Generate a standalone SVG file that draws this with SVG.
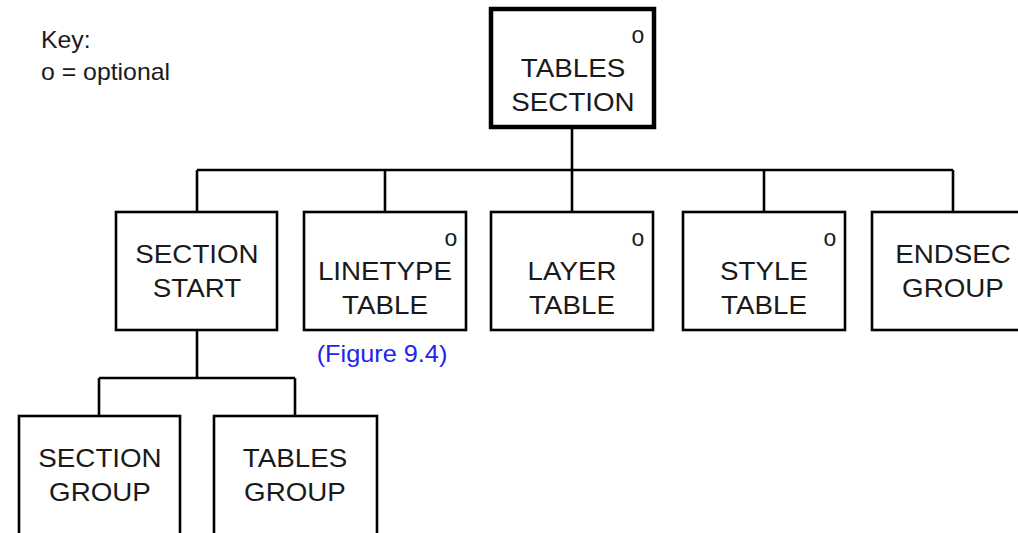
<svg xmlns="http://www.w3.org/2000/svg" width="1018" height="533" viewBox="0 0 1018 533">
<style>
.box{fill:#fff;stroke:#000;stroke-width:2.6}
.main{fill:#fff;stroke:#000;stroke-width:4.5}
.ln{fill:none;stroke:#000;stroke-width:2.6}
text{font-family:"Liberation Sans",Arial,sans-serif;fill:#1a1a1a}
.lbl{font-size:25px;text-anchor:middle;transform-box:fill-box;transform-origin:center;transform:scaleX(1.11)}
.opt{font-size:23px;text-anchor:middle}
.key{font-size:23px;transform-box:fill-box;transform-origin:left center;transform:scaleX(1.08)}
.ref{font-size:23px;text-anchor:middle;fill:#2323f0;transform-box:fill-box;transform-origin:center;transform:scaleX(1.1)}
</style>
<g id="connectors">
<path class="ln" d="M572 129V170M197 170H953M197 170V212M385 170V212M572 170V212M764 170V212M953 170V212"/>
<path class="ln" d="M197 330V378M99 378H295M99 378V416M295 378V416"/>
</g>
<g id="key">
<text class="key" x="41" y="48">Key:</text>
<text class="key" x="41" y="80">o = optional</text>
</g>
<g id="tables-section">
<rect class="main" x="491" y="9" width="163" height="118"/>
<text class="opt" x="638" y="43">o</text>
<text class="lbl" x="573" y="77">TABLES</text>
<text class="lbl" x="573" y="111">SECTION</text>
</g>
<g id="section-start">
<rect class="box" x="116" y="212" width="161" height="118"/>
<text class="lbl" x="197" y="263">SECTION</text>
<text class="lbl" x="197" y="297">START</text>
</g>
<g id="linetype-table">
<rect class="box" x="304" y="212" width="162" height="118"/>
<text class="opt" x="451" y="246">o</text>
<text class="lbl" x="385" y="280">LINETYPE</text>
<text class="lbl" x="385" y="314">TABLE</text>
<text class="ref" x="382" y="362">(Figure 9.4)</text>
</g>
<g id="layer-table">
<rect class="box" x="491" y="212" width="162" height="118"/>
<text class="opt" x="638" y="246">o</text>
<text class="lbl" x="572" y="280">LAYER</text>
<text class="lbl" x="572" y="314">TABLE</text>
</g>
<g id="style-table">
<rect class="box" x="683" y="212" width="162" height="118"/>
<text class="opt" x="830" y="246">o</text>
<text class="lbl" x="764" y="280">STYLE</text>
<text class="lbl" x="764" y="314">TABLE</text>
</g>
<g id="endsec-group">
<rect class="box" x="872" y="212" width="162" height="118"/>
<text class="lbl" x="953" y="263">ENDSEC</text>
<text class="lbl" x="953" y="297">GROUP</text>
</g>
<g id="section-group">
<rect class="box" x="19" y="416" width="161" height="130"/>
<text class="lbl" x="100" y="467">SECTION</text>
<text class="lbl" x="100" y="501">GROUP</text>
</g>
<g id="tables-group">
<rect class="box" x="214" y="416" width="163" height="130"/>
<text class="lbl" x="295" y="467">TABLES</text>
<text class="lbl" x="295" y="501">GROUP</text>
</g>
</svg>
